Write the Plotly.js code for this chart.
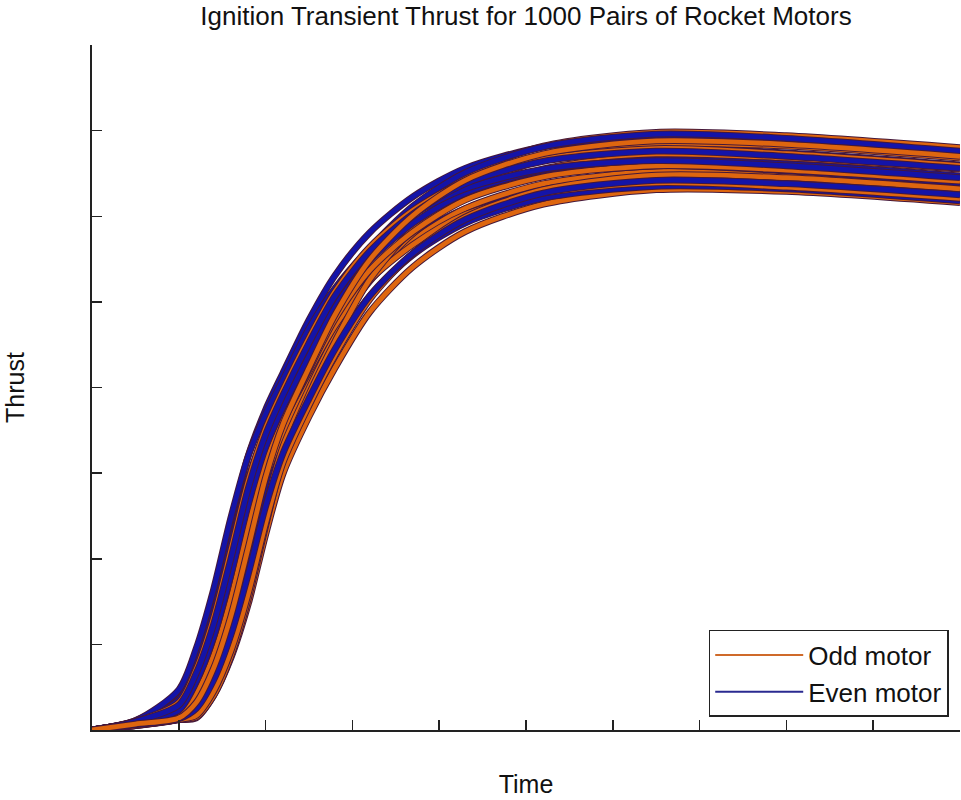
<!DOCTYPE html>
<html>
<head>
<meta charset="utf-8">
<script src="https://cdn.plot.ly/plotly-3.0.1.min.js"></script>
<style>
html,body{margin:0;padding:0;background:#fff;}
#chart{width:961px;height:800px;}
</style>
</head>
<body>
<div id="chart"></div>
<script>
// Shared time samples (x axis units)
const timePts = [0, 0.5, 1.0, 1.2, 1.4, 1.6, 1.8, 2.0, 2.2, 2.5, 2.8, 3.2, 3.7, 4.3, 5.2, 6.5, 8.0, 10.0];

// Odd motors (orange)
const odd1  = [0, 0.05, 0.12, 0.14, 0.40, 0.84, 1.47, 2.28, 2.99, 3.66, 4.23, 4.88, 5.41, 5.82, 6.14, 6.31, 6.29, 6.16];
const odd2  = [0, 0.06, 0.14, 0.27, 0.63, 1.21, 1.98, 2.84, 3.52, 4.21, 4.84, 5.51, 6.06, 6.48, 6.82, 6.98, 6.94, 6.80];
const odd3  = [0, 0.07, 0.14, 0.35, 0.75, 1.35, 2.14, 2.90, 3.45, 4.07, 4.66, 5.24, 5.72, 6.09, 6.38, 6.52, 6.48, 6.34];
const odd4  = [0, 0.06, 0.13, 0.22, 0.54, 1.06, 1.78, 2.61, 3.31, 3.99, 4.60, 5.26, 5.80, 6.22, 6.55, 6.71, 6.68, 6.55];
const odd5  = [0, 0.08, 0.21, 0.51, 1.01, 1.69, 2.48, 3.14, 3.60, 4.18, 4.72, 5.25, 5.67, 6.02, 6.27, 6.39, 6.34, 6.21];
const odd6  = [0, 0.05, 0.12, 0.15, 0.40, 0.86, 1.53, 2.38, 3.17, 3.92, 4.54, 5.26, 5.85, 6.30, 6.66, 6.84, 6.82, 6.68];
const odd7  = [0, 0.08, 0.15, 0.42, 0.87, 1.53, 2.38, 3.12, 3.61, 4.21, 4.80, 5.37, 5.82, 6.19, 6.46, 6.59, 6.54, 6.41];
const odd8  = [0, 0.10, 0.32, 0.71, 1.31, 2.10, 2.91, 3.52, 3.97, 4.58, 5.12, 5.64, 6.07, 6.41, 6.67, 6.79, 6.73, 6.59];
const odd9  = [0, 0.05, 0.12, 0.17, 0.45, 0.92, 1.59, 2.41, 3.12, 3.79, 4.38, 5.03, 5.57, 5.99, 6.31, 6.48, 6.45, 6.32];
const odd10 = [0, 0.07, 0.14, 0.32, 0.72, 1.33, 2.13, 2.95, 3.57, 4.23, 4.85, 5.49, 6.01, 6.42, 6.73, 6.88, 6.84, 6.70];

// Even motors (blue)
const even1  = [0, 0.11, 0.41, 0.87, 1.54, 2.41, 3.20, 3.74, 4.17, 4.79, 5.31, 5.81, 6.23, 6.56, 6.81, 6.92, 6.86, 6.72];
const even2  = [0, 0.09, 0.28, 0.63, 1.18, 1.92, 2.69, 3.30, 3.73, 4.32, 4.84, 5.35, 5.76, 6.09, 6.34, 6.46, 6.40, 6.27];
const even3  = [0, 0.08, 0.18, 0.48, 0.97, 1.67, 2.52, 3.26, 3.76, 4.38, 4.98, 5.55, 6.01, 6.38, 6.66, 6.79, 6.74, 6.60];
const even4  = [0, 0.06, 0.13, 0.30, 0.66, 1.22, 1.97, 2.72, 3.29, 3.91, 4.48, 5.07, 5.55, 5.92, 6.21, 6.35, 6.32, 6.18];
const even5  = [0, 0.10, 0.35, 0.76, 1.37, 2.17, 2.93, 3.49, 3.91, 4.50, 5.01, 5.50, 5.91, 6.23, 6.48, 6.59, 6.53, 6.39];
const even6  = [0, 0.08, 0.15, 0.40, 0.85, 1.51, 2.37, 3.17, 3.74, 4.38, 5.01, 5.62, 6.12, 6.51, 6.81, 6.96, 6.91, 6.76];
const even7  = [0, 0.09, 0.23, 0.56, 1.08, 1.81, 2.63, 3.30, 3.77, 4.37, 4.94, 5.48, 5.92, 6.27, 6.54, 6.66, 6.61, 6.47];
const even8  = [0, 0.11, 0.47, 0.95, 1.64, 2.48, 3.20, 3.69, 4.09, 4.69, 5.16, 5.62, 6.02, 6.32, 6.55, 6.65, 6.59, 6.45];
const even9  = [0, 0.06, 0.13, 0.25, 0.58, 1.11, 1.82, 2.61, 3.23, 3.87, 4.45, 5.07, 5.57, 5.96, 6.27, 6.42, 6.38, 6.25];
const even10 = [0, 0.10, 0.29, 0.66, 1.23, 2.00, 2.82, 3.45, 3.91, 4.52, 5.07, 5.59, 6.03, 6.38, 6.64, 6.76, 6.70, 6.56];

const oddSeries = [odd1, odd2, odd3, odd4, odd5, odd6, odd7, odd8, odd9, odd10];
const evenSeries = [even1, even2, even3, even4, even5, even6, even7, even8, even9, even10];

const legendNames = ["Odd motor", "Even motor"];
const titleText = "Ignition Transient Thrust for 1000 Pairs of Rocket Motors";
const xTitle = "Time";
const yTitle = "Thrust";

const ORANGE = "#de660f";
const BLUE = "#1414a8";
const EDGE = "#45183a";
const LEGEND_ORANGE = "#cf6a2a";
const LEGEND_BLUE = "#2a2a90";

function lineTrace(ys, color, width, group) {
  return {
    x: timePts, y: ys, type: "scatter", mode: "lines",
    name: group === "odd" ? legendNames[0] : legendNames[1],
    legendgroup: group, showlegend: false,
    line: {color: color, width: width, shape: "spline", smoothing: 0.8},
    hoverinfo: "skip"
  };
}

const traces = [];
for (let i = 0; i < oddSeries.length; i++) {
  const pair = [[oddSeries[i], ORANGE, "odd"], [evenSeries[i], BLUE, "even"]];
  if (i % 2 === 1) pair.reverse();
  for (const [ys, col, grp] of pair) {
    traces.push(lineTrace(ys, EDGE, 6.8, grp));
    traces.push(lineTrace(ys, col, 4.8, grp));
  }
}
// legend entries (thin lines as in the reference legend)
traces.push({x: [null], y: [null], type: "scatter", mode: "lines", name: legendNames[0],
  legendgroup: "odd", showlegend: true, line: {color: LEGEND_ORANGE, width: 2}});
traces.push({x: [null], y: [null], type: "scatter", mode: "lines", name: legendNames[1],
  legendgroup: "even", showlegend: true, line: {color: LEGEND_BLUE, width: 2}});

const layout = {
  width: 961, height: 800,
  margin: {l: 92, r: 1, t: 45, b: 70},
  paper_bgcolor: "#ffffff", plot_bgcolor: "#ffffff",
  font: {family: "Liberation Sans, Arial, sans-serif", size: 25, color: "#111"},
  title: {text: titleText, font: {size: 26, color: "#111"}, x: 0.5, xref: "paper", xanchor: "center",
          y: 0.98, yref: "container", yanchor: "middle"},
  showlegend: true,
  legend: {x: 0.987, y: 0.019, xanchor: "right", yanchor: "bottom",
           bgcolor: "#ffffff", bordercolor: "#222", borderwidth: 1.5,
           font: {size: 26, color: "#111"}, traceorder: "normal", tracegroupgap: 0,
           itemwidth: 88},
  xaxis: {
    range: [0, 10], dtick: 1, tick0: 0, showgrid: false, zeroline: false,
    showline: true, linecolor: "#222", linewidth: 2,
    ticks: "inside", ticklen: 10, tickwidth: 1.5, tickcolor: "#222",
    showticklabels: false,
    title: {text: xTitle, font: {size: 25, color: "#111"}, standoff: 44}
  },
  yaxis: {
    range: [0, 8], dtick: 1, tick0: 0, showgrid: false, zeroline: false,
    showline: true, linecolor: "#222", linewidth: 2,
    ticks: "inside", ticklen: 10, tickwidth: 1.5, tickcolor: "#222",
    showticklabels: false,
    title: {text: yTitle, font: {size: 25, color: "#111"}, standoff: 58}
  }
};

Plotly.newPlot("chart", traces, layout, {staticPlot: true, displayModeBar: false});
</script>
</body>
</html>
